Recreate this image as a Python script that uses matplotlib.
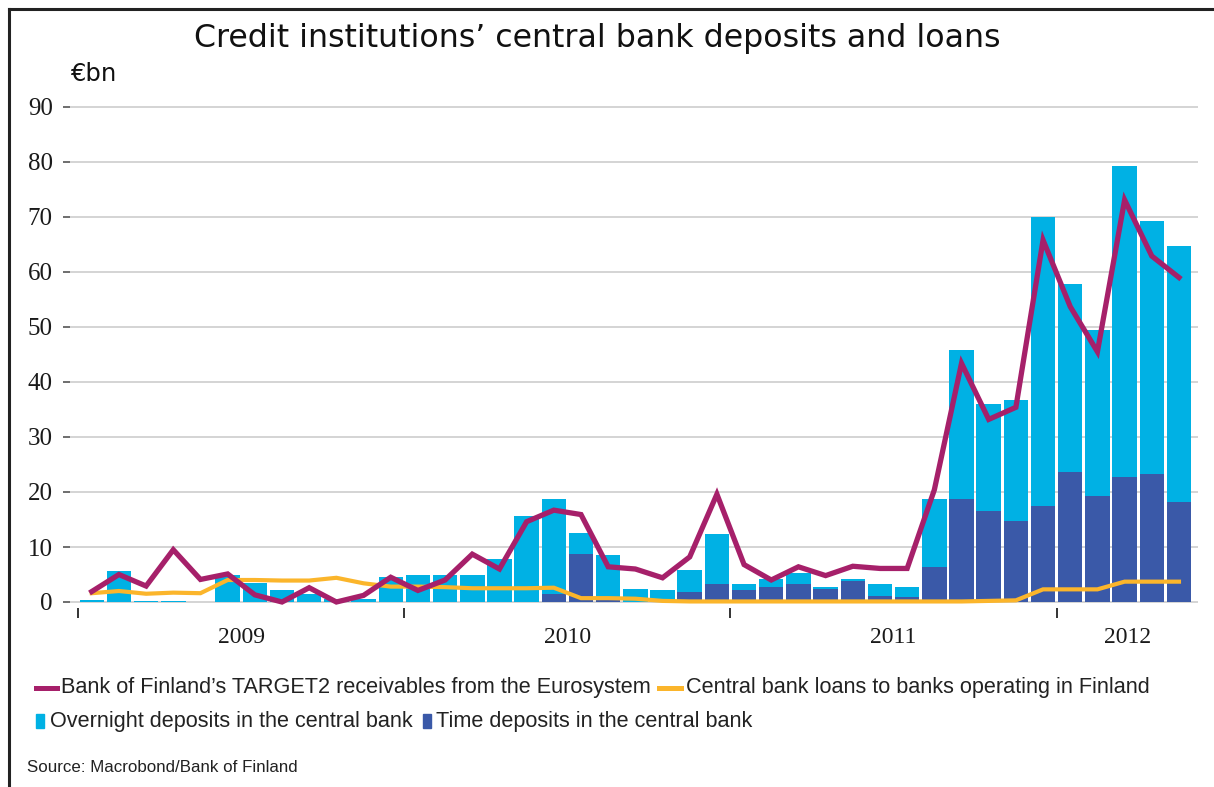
import matplotlib
matplotlib.use("Agg")
import matplotlib.pyplot as plt
import numpy as np
from matplotlib.lines import Line2D
from matplotlib.patches import Rectangle

# Monthly observations, January 2009 - May 2012
years = ["2009", "2010", "2011", "2012"]

time_deposits = [0, 0, 0, 0, 0, 0, 0, 0, 0, 0, 0, 0,
                 0, 0, 0, 0, 0, 1.5, 8.8, 0.4, 0, 0, 1.9, 3.2,
                 2.2, 2.8, 3.2, 2.4, 3.8, 1.1, 0.9, 6.4, 18.7, 16.5, 14.7, 17.5,
                 23.7, 19.3, 22.7, 23.3, 18.1]

overnight_deposits = [0.3, 5.6, 0.2, 0.2, 0.0, 5.0, 3.4, 2.1, 1.5, 0.5, 0.6, 4.5,
                      5.0, 5.0, 5.0, 7.9, 15.6, 17.3, 3.8, 8.1, 2.4, 2.2, 4.0, 9.1,
                      1.1, 1.3, 2.0, 0.4, 0.3, 2.1, 1.8, 12.4, 27.2, 19.5, 22.1, 52.5,
                      34.2, 30.2, 56.6, 46.0, 46.6]

target2 = [1.9, 5.0, 2.9, 9.5, 4.1, 5.1, 1.3, 0.0, 2.6, 0.0, 1.2, 4.5,
           2.1, 4.0, 8.7, 6.0, 14.6, 16.7, 15.9, 6.4, 6.0, 4.4, 8.2, 19.6,
           6.8, 4.0, 6.4, 4.8, 6.5, 6.1, 6.1, 20.4, 43.4, 33.2, 35.4, 65.8,
           53.7, 45.5, 73.1, 62.9, 59.0]

cb_loans = [1.6, 2.0, 1.5, 1.7, 1.6, 4.0, 4.0, 3.9, 3.9, 4.4, 3.4, 2.8,
            2.8, 2.7, 2.5, 2.5, 2.5, 2.6, 0.7, 0.7, 0.6, 0.2, 0.1, 0.1,
            0.1, 0.1, 0.1, 0.1, 0.1, 0.1, 0.1, 0.1, 0.1, 0.2, 0.3, 2.3,
            2.3, 2.3, 3.7, 3.7, 3.7]

C_TARGET = "#A6206A"
C_LOANS = "#FBB52B"
C_OVERNIGHT = "#00B1E4"
C_TIME = "#3A59A8"

W, H = 1214, 787
fig = plt.figure(figsize=(W / 100, H / 100), dpi=100)
fig.patch.set_facecolor("white")


def fx(px):
    return px / W


def fy(py):
    return 1 - py / H


# axes placement (pixel-based)
x_left, x_right = 70, 1198
y_top, y_bottom = 101.5, 607.5
ax = fig.add_axes([fx(x_left), fy(y_bottom), fx(x_right - x_left), (y_bottom - y_top) / H])

n = len(time_deposits)
x = np.arange(n) + 0.5

ax.bar(x, time_deposits, width=0.9, color=C_TIME, edgecolor="none", zorder=2)
ax.bar(x, overnight_deposits, width=0.9, bottom=time_deposits, color=C_OVERNIGHT,
       edgecolor="none", zorder=2)
ax.plot(x, cb_loans, color=C_LOANS, lw=3.0, solid_joinstyle="miter", zorder=3)
ax.plot(x, target2, color=C_TARGET, lw=3.8, solid_joinstyle="miter", zorder=4)

ax.set_xlim(-0.3, 41.2)
ax.set_ylim(-1, 91)

for s in ax.spines.values():
    s.set_visible(False)

ax.set_yticks(np.arange(0, 91, 10))
ax.yaxis.grid(True, color="#d4d4d4", lw=1.4, zorder=0)
ax.set_axisbelow(True)
ax.tick_params(axis="y", length=5, width=1.2, color="#555555", pad=7.5,
               labelsize=18, labelcolor="#1a1a1a")
for lbl in ax.get_yticklabels():
    lbl.set_fontfamily("Liberation Serif")

# year boundaries as ticks, year names centred in between
ax.set_xticks([0, 12, 24, 36])
ax.set_xticklabels([])
ax.set_xticks([6, 18, 30, 38.6], minor=True)
ax.set_xticklabels(years, minor=True)
ax.tick_params(axis="x", which="major", length=7, width=1.4, color="#333333", direction="out")
ax.tick_params(axis="x", which="minor", length=0, pad=14, labelsize=17, labelcolor="#1a1a1a")
for lbl in ax.get_xticklabels(minor=True):
    lbl.set_fontfamily("Liberation Serif")

# title and unit
fig.text(fx(597), fy(38), "Credit institutions\u2019 central bank deposits and loans",
         ha="center", va="center", fontsize=22.8, family="DejaVu Sans", color="#111111")
fig.text(fx(70), fy(74), "\u20acbn", ha="left", va="center", fontsize=17.5,
         family="DejaVu Sans", color="#111111")

# legend, drawn item by item
leg_font = dict(fontsize=15.55, family="Liberation Sans", color="#222222", va="center", ha="left")
row1, row2 = 688, 721
fig.add_artist(Line2D([fx(36), fx(57)], [fy(row1), fy(row1)], color=C_TARGET, lw=3.6,
                      transform=fig.transFigure))
fig.text(fx(61), fy(row1), "Bank of Finland\u2019s TARGET2 receivables from the Eurosystem", **leg_font)
fig.add_artist(Line2D([fx(659), fx(681)], [fy(row1), fy(row1)], color=C_LOANS, lw=3.6,
                      transform=fig.transFigure))
fig.text(fx(686), fy(row1), "Central bank loans to banks operating in Finland", **leg_font)

fig.add_artist(Rectangle((fx(36), fy(row2 + 7)), fx(8), 14 / H, color=C_OVERNIGHT,
                         transform=fig.transFigure))
fig.text(fx(50), fy(row2), "Overnight deposits in the central bank", **leg_font)
fig.add_artist(Rectangle((fx(423), fy(row2 + 7)), fx(8), 14 / H, color=C_TIME,
                         transform=fig.transFigure))
fig.text(fx(436), fy(row2), "Time deposits in the central bank", **leg_font)

fig.text(fx(27), fy(768), "Source: Macrobond/Bank of Finland", fontsize=12.2,
         family="Liberation Sans", color="#222222", va="center", ha="left")

# frame lines on the left and top
fig.add_artist(Line2D([fx(9), fx(9)], [fy(9), 0], color="#222222", lw=2.2,
                      transform=fig.transFigure))
fig.add_artist(Line2D([fx(9), 1], [fy(9), fy(9)], color="#222222", lw=2.2,
                      transform=fig.transFigure))

fig.savefig("out.png", dpi=100, facecolor="white")
